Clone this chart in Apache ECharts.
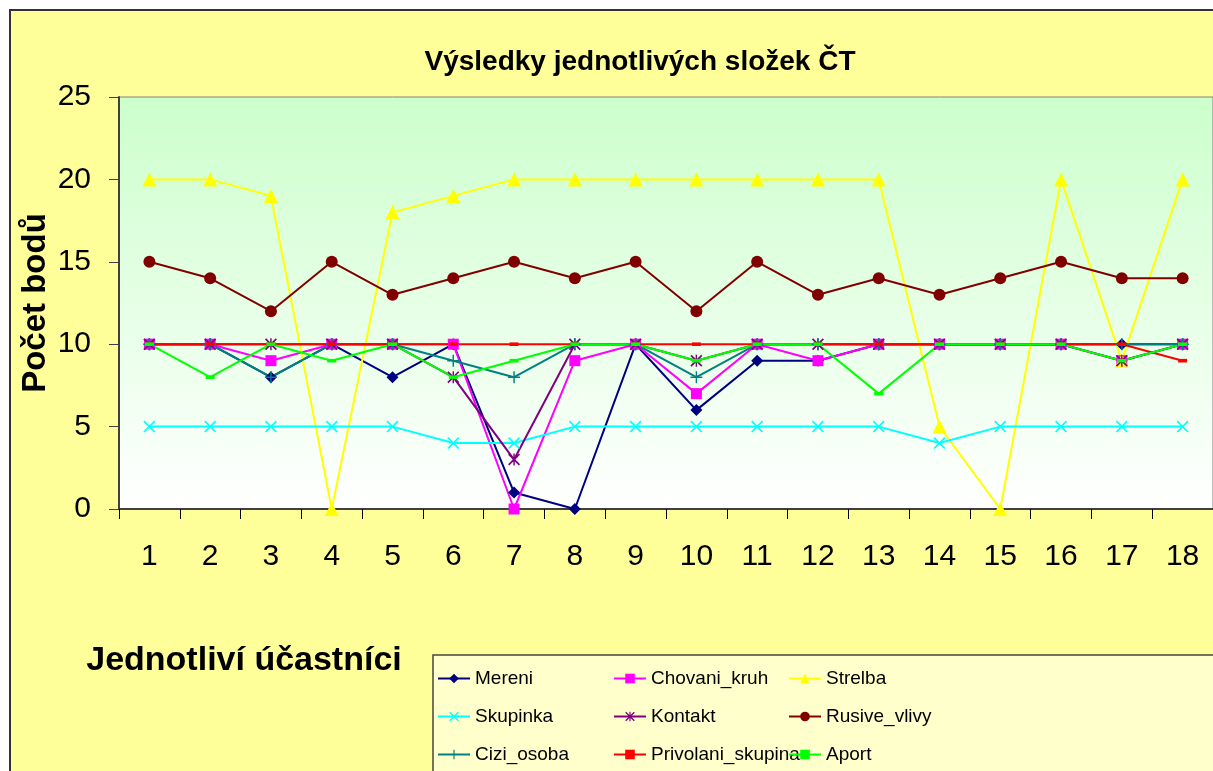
<!DOCTYPE html>
<html>
<head>
<meta charset="utf-8">
<script src="https://cdn.jsdelivr.net/npm/echarts@6/dist/echarts.min.js"></script>
<style>
  html, body { margin: 0; padding: 0; background: #fff; }
  #chart { width: 1213px; height: 771px; }
</style>
</head>
<body>
<div id="chart"></div>
<script>
// účastníci 1..18
const ucastnici = ['1','2','3','4','5','6','7','8','9','10','11','12','13','14','15','16','17','18']
const yTicks = [0, 5, 10, 15, 20, 25]

const mereni       = [10,10,8,10,8,10,1,0,10,6,9,9,10,10,10,10,10,10]
const chovaniKruh  = [10,10,9,10,10,10,0,9,10,7,10,9,10,10,10,10,9,10]
const strelba      = [20,20,19,0,18,19,20,20,20,20,20,20,20,5,0,20,9,20]
const skupinka     = [5,5,5,5,5,4,4,5,5,5,5,5,5,4,5,5,5,5]
const kontakt      = [10,10,10,10,10,8,3,10,10,9,10,10,10,10,10,10,9,10]
const rusiveVlivy  = [15,14,12,15,13,14,15,14,15,12,15,13,14,13,14,15,14,14]
const ciziOsoba    = [10,10,8,10,10,9,8,10,10,8,10,10,10,10,10,10,10,10]
const privolani    = [10,10,10,10,10,10,10,10,10,10,10,10,10,10,10,10,10,9]
const aport        = [10,8,10,9,10,8,9,10,10,9,10,10,7,10,10,10,9,10]

// rozložení legendy: 3 sloupce x 3 řádky
const legendCols = [
  ['Mereni', 'Skupinka', 'Cizi_osoba'],
  ['Chovani_kruh', 'Kontakt', 'Privolani_skupina'],
  ['Strelba', 'Rusive_vlivy', 'Aport']
]

// symboly jako v Excelu
const SYM_X = 'path://M0,1 L1,0 L5,4 L9,0 L10,1 L6,5 L10,9 L9,10 L5,6 L1,10 L0,9 L4,5 Z'
const SYM_PLUS = 'path://M4.4,0 H5.6 V4.4 H10 V5.6 H5.6 V10 H4.4 V5.6 H0 V4.4 H4.4 Z'
const SYM_STAR = 'path://M4.4,0 H5.6 V10 H4.4 Z M0,1 L1,0 L10,9 L9,10 Z M9,0 L10,1 L1,10 L0,9 Z'
const SYM_DASH = 'path://M0,3 H10 V7 H0 Z'

const font = 'Liberation Sans, Arial, sans-serif'

const mkSeries = (name, data, color, symbol, size) => ({
  name,
  type: 'line',
  data,
  symbol,
  symbolSize: size,
  symbolKeepAspect: true,
  itemStyle: { color },
  lineStyle: { color, width: 2 },
  emphasis: { disabled: true },
  z: 3
})

const series = [
  mkSeries('Mereni', mereni, '#000080', 'diamond', 12),
  mkSeries('Chovani_kruh', chovaniKruh, '#FF00FF', 'rect', 11),
  mkSeries('Strelba', strelba, '#FFFF00', 'triangle', 14),
  mkSeries('Skupinka', skupinka, '#00FFFF', SYM_X, 12),
  mkSeries('Kontakt', kontakt, '#800080', SYM_STAR, 12),
  mkSeries('Rusive_vlivy', rusiveVlivy, '#800000', 'circle', 12),
  mkSeries('Cizi_osoba', ciziOsoba, '#008080', SYM_PLUS, 12),
  mkSeries('Privolani_skupina', privolani, '#FF0000', SYM_DASH, 9),
  mkSeries('Aport', aport, '#00FF00', SYM_DASH, 9)
]

const colX = [437, 613, 788]
const rowY = [677, 715, 753]
const legends = []
legendCols.forEach((col, c) => {
  col.forEach((name, r) => {
    legends.push({
      data: [name],
      left: colX[c],
      top: rowY[r] - 8,
      padding: 0,
      itemWidth: 32,
      itemHeight: 12,
      selectedMode: false,
      textStyle: { fontFamily: font, fontSize: 19, color: '#000' }
    })
  })
})

const chart = echarts.init(document.getElementById('chart'))
chart.setOption({
  animation: false,
  backgroundColor: '#fff',
  graphic: [
    {
      type: 'rect', z: -10, silent: true,
      shape: { x: 10, y: 10, width: 1230, height: 790 },
      style: { fill: '#FFFF99', stroke: '#333', lineWidth: 2 }
    },
    {
      type: 'rect', z: -5, silent: true,
      shape: { x: 433, y: 655, width: 800, height: 140 },
      style: { fill: '#FFFFCC', stroke: '#444', lineWidth: 1.5 }
    },
    {
      type: 'text', silent: true,
      x: 244, y: 661,
      style: {
        text: 'Jednotliví účastníci', fontFamily: font, fontSize: 34, fontWeight: 'bold',
        fill: '#000', align: 'center', verticalAlign: 'middle'
      }
    },
    {
      type: 'text', silent: true,
      x: 36, y: 303, rotation: Math.PI / 2,
      style: {
        text: 'Počet bodů', fontFamily: font, fontSize: 33, fontWeight: 'bold',
        fill: '#000', align: 'center', verticalAlign: 'middle'
      }
    }
  ],
  title: {
    text: 'Výsledky jednotlivých složek ČT',
    left: 635,
    top: 43,
    textAlign: 'center',
    textStyle: { fontFamily: font, fontSize: 28, fontWeight: 'bold', color: '#000' }
  },
  legend: legends,
  grid: {
    left: 119,
    top: 97,
    width: 1098,
    height: 412,
    show: true,
    borderColor: '#808080',
    borderWidth: 1,
    backgroundColor: new echarts.graphic.LinearGradient(0, 0, 0, 1, [
      { offset: 0, color: '#CCFFCC' },
      { offset: 1, color: '#FFFFFF' }
    ])
  },
  xAxis: {
    type: 'category',
    data: ucastnici,
    boundaryGap: true,
    axisLine: { lineStyle: { color: '#404040', width: 2 } },
    axisTick: { show: true, length: 10, inside: false, lineStyle: { color: '#000' } },
    axisLabel: { fontFamily: font, fontSize: 30, color: '#000', margin: 33, interval: 0 },
    splitLine: { show: false }
  },
  yAxis: {
    type: 'value',
    min: yTicks[0],
    max: yTicks[yTicks.length - 1],
    interval: 5,
    axisLine: { show: true, lineStyle: { color: '#404040', width: 2 } },
    axisTick: { show: true, length: 10, lineStyle: { color: '#404040' } },
    axisLabel: { fontFamily: font, fontSize: 30, color: '#000', margin: 28 },
    splitLine: { show: false }
  },
  series
})
</script>
</body>
</html>
